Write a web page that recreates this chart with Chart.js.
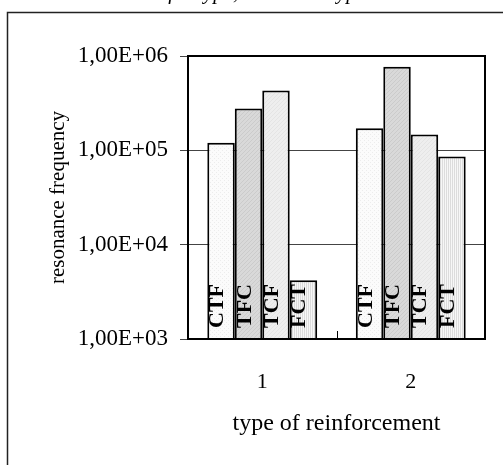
<!DOCTYPE html>
<html>
<head>
<meta charset="utf-8">
<script src="https://cdn.jsdelivr.net/npm/chart.js@4"></script>
<style>
  html, body { margin: 0; padding: 0; background: #fff; }
  #wrap { width: 503px; height: 465px; }
</style>
</head>
<body>
<div id="wrap"><canvas id="myChart"></canvas></div>
<script>
// data (log scale)
const categories = ['1', '2'];
const seriesNames = ['CTF', 'TFC', 'TCF', 'FCT'];
const ctfValues = [120000, 171000];
const tfcValues = [277000, 770000];
const tcfValues = [430000, 147000];
const fctValues = [4200, 86000];
const yTickValues = [1e3, 1e4, 1e5, 1e6];
const yTickLabels = ['1,00E+03', '1,00E+04', '1,00E+05', '1,00E+06'];

const serif = "'Liberation Serif', 'Times New Roman', serif";

// small fill patterns like the excel hatching
function makePattern(base, ink, kind) {
  const c = document.createElement('canvas');
  c.width = 4; c.height = 4;
  const g = c.getContext('2d');
  g.fillStyle = base;
  g.fillRect(0, 0, 4, 4);
  g.fillStyle = ink;
  if (kind === 'dots') {
    g.fillRect(0, 0, 1, 1);
    g.fillRect(2, 2, 1, 1);
  } else if (kind === 'diag') {
    for (let i = 0; i < 4; i++) g.fillRect(i, 3 - i, 1, 1);
  } else if (kind === 'vert') {
    g.fillRect(0, 0, 1, 4);
    g.fillRect(2, 0, 1, 4);
  }
  return g.createPattern(c, 'repeat');
}

const fills = [
  makePattern('#fbfbfb', '#ececec', 'dots'),
  makePattern('#d9d9d9', '#cbcbcb', 'diag'),
  makePattern('#eeeeee', '#e4e4e4', 'diag'),
  makePattern('#f7f7f7', '#dcdcdc', 'vert')
];

const seriesValues = [ctfValues, tfcValues, tcfValues, fctValues];

const datasets = seriesNames.map((name, i) => ({
  label: name,
  data: seriesValues[i],
  backgroundColor: fills[i],
  borderColor: '#000',
  borderWidth: 2,
  borderSkipped: 'bottom'
}));

const framePlugin = {
  id: 'frame',
  afterDatasetsDraw(chart) {
    const { ctx, chartArea: a, scales } = chart;
    ctx.save();
    // little tick between the two categories
    const xs = scales.x;
    const mid = (xs.getPixelForTick(0) + xs.getPixelForTick(1)) / 2;
    ctx.strokeStyle = '#000';
    ctx.lineWidth = 1;
    ctx.beginPath();
    ctx.moveTo(Math.round(mid) + 0.5, a.bottom - 8);
    ctx.lineTo(Math.round(mid) + 0.5, a.bottom);
    ctx.stroke();
    // plot area box
    ctx.lineWidth = 2;
    ctx.strokeRect(a.left, a.top, a.right - a.left, a.bottom - a.top);
    // series names written up inside each bar
    ctx.fillStyle = '#000';
    ctx.font = 'bold 22px ' + serif;
    ctx.textAlign = 'left';
    ctx.textBaseline = 'alphabetic';
    chart.data.datasets.forEach((ds, di) => {
      chart.getDatasetMeta(di).data.forEach(bar => {
        ctx.save();
        ctx.translate(bar.x + 2, a.bottom - 11);
        ctx.rotate(-Math.PI / 2);
        ctx.fillText(ds.label, 0, 0);
        ctx.restore();
      });
    });
    ctx.restore();
  },
  afterDraw(chart) {
    const { ctx } = chart;
    ctx.save();
    // outer border, cut by the page edge
    ctx.strokeStyle = '#222';
    ctx.lineWidth = 1.5;
    ctx.beginPath();
    ctx.moveTo(7.5, 465);
    ctx.lineTo(7.5, 12.5);
    ctx.lineTo(503, 12.5);
    ctx.stroke();
    // title sits above the page, only descenders show
    ctx.fillStyle = '#000';
    ctx.font = 'italic 21px ' + serif;
    ctx.textBaseline = 'alphabetic';
    ctx.textAlign = 'right';
    ctx.fillText('Results for ', 198, -1);
    ctx.textAlign = 'left';
    ctx.fillText('type, and load', 198, -1);
    ctx.fillText('type', 331, -1);
    ctx.restore();
  }
};

const ctx = document.getElementById('myChart');

new Chart(ctx, {
  type: 'bar',
  data: {
    labels: categories,
    datasets: datasets
  },
  options: {
    responsive: true,
    maintainAspectRatio: false,
    animation: false,
    layout: { padding: { top: 56, right: 18, left: 0, bottom: 0 } },
    categoryPercentage: 0.74,
    barPercentage: 1.0,
    plugins: {
      legend: { display: false },
      tooltip: { enabled: false }
    },
    scales: {
      x: {
        grid: { display: false },
        border: { display: false },
        ticks: {
          color: '#000',
          padding: 22,
          font: { family: serif, size: 22 }
        },
        title: {
          display: true,
          text: 'type of reinforcement',
          color: '#000',
          font: { family: serif, size: 24 },
          padding: { top: 0, bottom: 27 }
        },
        afterFit: s => { s.height = 126; }
      },
      y: {
        type: 'logarithmic',
        min: 1000,
        max: 1e6,
        afterBuildTicks: s => { s.ticks = yTickValues.map(v => ({ value: v })); },
        ticks: {
          color: '#000',
          padding: 12,
          font: { family: serif, size: 23 },
          callback: v => yTickLabels[yTickValues.indexOf(v)]
        },
        grid: { color: '#444', lineWidth: 1, tickLength: 8 },
        border: { display: false },
        title: {
          display: true,
          text: 'resonance frequency',
          color: '#000',
          font: { family: serif, size: 21 },
          padding: { top: 46, bottom: 0 }
        },
        afterFit: s => { s.width = 188; }
      }
    }
  },
  plugins: [framePlugin]
});
</script>
</body>
</html>
